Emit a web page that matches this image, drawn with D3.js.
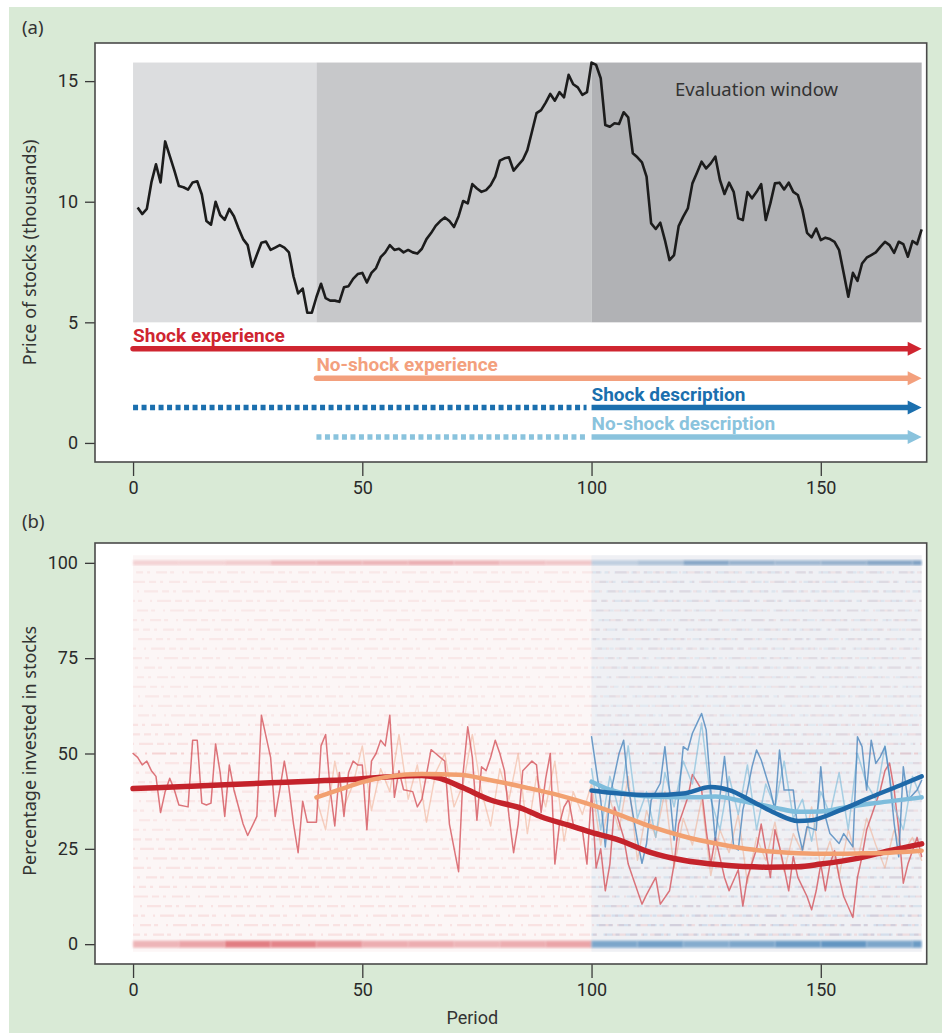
<!DOCTYPE html>
<html>
<head>
<meta charset="utf-8">
<script src="https://cdn.jsdelivr.net/npm/d3@7"></script>
<style>
  body { margin: 0; background: #fff; }
  .cond { font-family: Roboto, "Liberation Sans Narrow", sans-serif; }
  .reg  { font-family: "Noto Sans", "Open Sans", sans-serif; }
</style>
</head>
<body>
<script>
// ---- panel (a): stock price (thousands), periods 1..172
var stockPrice = [
  9.76, 9.49, 9.7, 10.8, 11.55, 10.8, 12.5, 11.9, 11.3, 10.65,
  10.6, 10.5, 10.8, 10.85, 10.3, 9.2, 9.05, 10.0, 9.45, 9.25,
  9.7, 9.4, 8.9, 8.45, 8.2, 7.3, 7.8, 8.3, 8.35, 8.0,
  8.1, 8.2, 8.1, 7.9, 6.9, 6.2, 6.4, 5.4, 5.4, 6.05,
  6.6, 6.0, 5.9, 5.9, 5.85, 6.45, 6.5, 6.8, 7.0, 7.05,
  6.65, 7.05, 7.25, 7.7, 7.9, 8.2, 8.0, 8.05, 7.9, 8.0,
  7.9, 7.85, 8.05, 8.45, 8.7, 9.0, 9.2, 9.35, 9.2, 8.95,
  9.4, 10.03, 9.93, 10.73, 10.55, 10.41, 10.48, 10.69, 11.04, 11.7,
  11.8, 11.84, 11.29, 11.52, 11.73, 12.14, 12.9, 13.67, 13.8, 14.11,
  14.47, 14.19, 14.54, 14.33, 15.26, 14.87, 14.74, 14.43, 14.54, 15.77,
  15.67, 15.12, 13.18, 13.11, 13.25, 13.22, 13.71, 13.5, 12.01, 11.84,
  11.63, 11.04, 9.1, 8.87, 9.13, 8.41, 7.58, 7.79, 8.99, 9.38,
  9.72, 10.76, 11.2, 11.66, 11.38, 11.59, 11.87, 10.9, 10.32, 10.79,
  10.41, 9.31, 9.24, 10.4, 10.14, 10.41, 10.73, 9.24, 9.93, 10.76,
  10.79, 10.51, 10.79, 10.41, 10.28, 9.65, 8.71, 8.52, 8.89, 8.41,
  8.51, 8.45, 8.34, 7.99, 7.03, 6.06, 7.05, 6.72, 7.44, 7.68,
  7.79, 7.9, 8.13, 8.34, 8.2, 7.88, 8.34, 8.24, 7.72, 8.37,
  8.24, 8.85
];
var phaseStart = [0, 40, 100];
var phaseEnd   = [40, 100, 172];
var phaseFill  = ["#dcdddf", "#c7c8ca", "#b1b2b5"];

var conditions   = ["Shock experience", "No-shock experience", "Shock description", "No-shock description"];
var condStart    = [0, 40, 0, 40];     // first period shown
var condSolid    = [0, 40, 100, 100];  // period where the solid part starts
var condEnd      = 172;
var condColor    = ["#cf2530", "#f3a07d", "#1b6fae", "#8ac3dd"];

var yTicksA = [0, 5, 10, 15];
var xTicks  = [0, 50, 100, 150];
var yTicksB = [0, 25, 50, 75, 100];

// ---- panel (b): smoothed percentage invested
var shockExpSmooth = [[0,40.8],[10,41.3],[20,41.8],[30,42.3],[40,42.8],[50,43.4],[57,44],[63,44.2],[67,43.5],
  [72,41],[78,37.8],[85,35.5],[89,33.4],[95,31.2],[100,29.3],[106,27.3],[113,24],[120,22],[128,20.8],
  [138,20.2],[145,20.3],[150,21],[158,22.5],[165,24.5],[172,26.3]];
var noShockExpSmooth = [[40,38.5],[45,40.5],[50,42.5],[56,44],[63,44.6],[71,44.4],[78,43],[86,41],[93,39],
  [100,36.5],[106,34],[113,30.8],[120,28.3],[128,26.2],[135,24.8],[143,24],[150,23.7],[158,23.8],[165,24],[172,24.5]];
var shockDescSmooth = [[100,40.3],[106,39.5],[113,39.1],[120,39.5],[126,41.2],[130,40.4],[135,37.5],[140,34.4],
  [145,32.3],[148,32.5],[154,35],[161,38.6],[168,42],[172,44]];
var noShockDescSmooth = [[100,42.6],[104,40.5],[108,39.3],[115,38.6],[122,38.5],[127,38.7],[133,37.5],[140,35.8],
  [145,34.7],[150,34.8],[155,35.8],[162,37],[172,38.5]];

// ---- panel (b): mean per period
var shockExpMean = [[0,50],[1,49],[2,47],[3,48],[4,45.5],[5,44],[6,34.5],[7,40],[8,43.5],[9,40.5],[10,36.5],
  [12,36],[13,53.5],[14,53.5],[15,37],[16,36.5],[17,37],[18,52.5],[19,45],[20,33.5],[21,47],[22,40.5],[24,31.5],
  [25,28.5],[27,33.5],[28,60],[30,49],[31,33.5],[32,40.5],[33,48],[34,41],[35,31.5],[36,24],[37,37.5],[38,32],
  [40,32],[41,52],[42,55],[43,40.5],[44,31],[45,45],[46,33.5],[47,45],[48,48],[49,47],[50,47],[51,30],[52,48],
  [53,50],[54,53.5],[55,52],[56,60],[57,38.5],[58,45.5],[59,40.5],[61,40],[62,36],[63,38],[65,51],[66,50],
  [67,49],[68,48],[69,31.5],[71,19],[72,45],[73,57],[74,49],[75,32.5],[76,46.5],[77,45.5],[78,49],[79,53.5],
  [80,50],[81,45.5],[82,33.5],[83,24],[84,31.5],[85,45.5],[87,48],[88,47],[89,34.5],[90,43.5],[91,50],[92,21],
  [93,31.5],[94,36],[95,38],[96,31.5],[97,30],[98,30],[99,21],[100,40],[101,20],[102,25],[103,14],[104,21],
  [105,36],[107,28],[108,21],[109,17.5],[111,10.5],[112,13],[114,17.5],[115,10.5],[117,14],[118,21],[119,31.5],
  [121,38.5],[122,44.5],[124,40.5],[125,30],[126,21],[127,28],[129,17.5],[130,14],[132,19.5],[133,10],[134,17.5],
  [136,25],[137,31.5],[139,17.5],[140,30],[141,25.5],[142,20],[143,14],[144,23],[145,17.5],[147,12.5],[148,9],
  [149,14],[150,21],[151,14],[152,21],[153,24.5],[154,17.5],[155,12.5],[157,7],[158,17.5],[159,23],[160,30],
  [161,33.5],[163,40.5],[164,45.5],[165,47.5],[166,40.5],[167,30],[168,16],[169,21],[170,24.5],[171,28],[172,23]];
var noShockExpMean = [[40,38],[42,30],[44,48],[46,36],[48,42],[50,52],[52,35],[54,46],[56,40],[58,55],[60,38],
  [62,47],[64,32],[66,45],[68,50],[70,36],[72,42],[74,55],[76,40],[78,31],[80,46],[82,38],[84,50],[86,29],[88,44],
  [90,36],[92,48],[94,27],[96,40],[98,34],[100,42],[102,26],[104,38],[106,30],[108,44],[110,22],[112,35],[114,28],
  [116,40],[118,20],[120,33],[122,26],[124,38],[126,18],[128,30],[130,24],[132,34],[134,16],[136,28],[138,22],
  [140,32],[142,19],[144,29],[146,24],[148,36],[150,20],[152,27],[154,18],[156,30],[158,22],[160,33],[162,26],
  [164,20],[166,30],[168,24],[170,28],[172,22]];
var shockDescMean = [[100,54.4],[102,37.8],[103,25.5],[104,38.7],[106,50],[107,53.5],[108,41.3],[110,27.3],
  [111,21.2],[112,26.4],[113,37.8],[115,42.2],[116,51.8],[117,40.4],[118,27.3],[119,38.7],[120,51.8],[121,50.9],
  [122,55.3],[123,57.9],[124,60.5],[125,56.2],[126,40.4],[127,27.3],[128,38.7],[129,49.2],[130,37.8],[131,25.5],
  [132,24.7],[133,35.2],[134,40.4],[135,46.5],[136,50.9],[137,48.3],[139,40.4],[140,35.2],[141,50.9],[142,40.4],
  [144,40.4],[145,29.9],[146,24.7],[147,30.8],[149,29.9],[150,46.5],[151,33.4],[152,29],[154,26.4],[155,29],
  [157,25.5],[158,54.4],[159,51.8],[160,40.4],[161,53.5],[162,47.4],[163,49.2],[164,51.8],[165,43.9],[166,31.7],
  [167,22.9],[168,46.5],[169,37.8],[171,40.4],[172,43]];
var noShockDescMean = [[100,46],[102,30],[104,44],[106,35],[108,52],[110,33],[112,40],[114,28],[116,45],
  [118,36],[120,48],[122,42],[124,58],[126,38],[128,30],[130,44],[132,34],[134,47],[136,30],[138,42],[140,36],
  [142,48],[144,33],[146,38],[148,27],[150,40],[152,34],[154,45],[156,30],[158,50],[160,42],[162,38],[164,52],
  [166,36],[168,30],[170,44],[172,38]];

// density of single choices piled at 0% and 100% (per 10-period block)
var topRedDensity    = [0.3, 0.3, 0.35, 0.5, 0.55, 0.55, 0.6, 0.55, 0.45, 0.4];
var topBlueDensity   = [0.3, 0.4, 0.65, 0.55, 0.5, 0.55, 0.65, 0.7];
var bottomRedDensity = [0.4, 0.5, 0.75, 0.7, 0.6, 0.45, 0.45, 0.4, 0.45, 0.5];
var bottomBlueDensity= [0.65, 0.7, 0.6, 0.65, 0.75, 0.8, 0.65, 0.75];
// density of single choices between 0 and 100 (per 10-point level band, low to high)
var levelRedDensity  = [0.15, 0.14, 0.13, 0.11, 0.12, 0.14, 0.1, 0.1, 0.1, 0.1];
var levelBlueDensity = [0.19, 0.15, 0.12, 0.1, 0.09, 0.09, 0.08, 0.09, 0.1, 0.12];

var W = 942, H = 1035;
var svg = d3.select("body").append("svg").attr("width", W).attr("height", H);

var defs = svg.append("defs");
defs.append("filter").attr("id", "soft").append("feGaussianBlur").attr("stdDeviation", 1.2);
defs.append("filter").attr("id", "haze").append("feGaussianBlur").attr("stdDeviation", 0.7);

svg.append("rect").attr("x", 9).attr("y", 7).attr("width", W - 9).attr("height", 1026).attr("fill", "#d9ead6");

var x  = d3.scaleLinear().domain([-8.3, 173.1]).range([95, 926.7]);
var yA = d3.scaleLinear().domain([-0.79, 16.58]).range([462, 43]);
var yB = d3.scaleLinear().domain([-5.2, 105.2]).range([964, 543]);

function frame(y) {
  svg.append("rect")
    .attr("x", x.range()[0]).attr("y", y.range()[1])
    .attr("width", x.range()[1] - x.range()[0]).attr("height", y.range()[0] - y.range()[1])
    .attr("fill", "#fff");
}
function axes(y, ticks) {
  var gy = svg.append("g")
      .attr("transform", "translate(" + x.range()[0] + ",0)")
      .call(d3.axisLeft(y).tickValues(ticks).tickSize(10).tickPadding(7));
  var gx = svg.append("g")
      .attr("transform", "translate(0," + y.range()[0] + ")")
      .call(d3.axisBottom(x).tickValues(xTicks).tickSize(14).tickPadding(5));
  [gy, gx].forEach(function(g) {
    g.attr("font-family", null).attr("class", "cond");
    g.select(".domain").remove();
    g.selectAll("line").attr("stroke", "#3a3a3a").attr("stroke-width", 1.3);
    g.selectAll("text").attr("font-size", 18).attr("fill", "#2a2a2a");
  });
  svg.append("rect")
    .attr("x", x.range()[0]).attr("y", y.range()[1])
    .attr("width", x.range()[1] - x.range()[0]).attr("height", y.range()[0] - y.range()[1])
    .attr("fill", "none").attr("stroke", "#4a4a4a").attr("stroke-width", 1.6);
}

// ================= panel (a)
frame(yA);
var shadeTop = d3.max(stockPrice);
phaseStart.forEach(function(s, i) {
  svg.append("rect")
    .attr("x", x(s)).attr("y", yA(shadeTop))
    .attr("width", x(phaseEnd[i]) - x(s)).attr("height", yA(5) - yA(shadeTop))
    .attr("fill", phaseFill[i]);
});
svg.append("text").attr("class", "reg")
  .attr("x", x((phaseStart[2] + phaseEnd[2]) / 2)).attr("y", yA(shadeTop) + 33)
  .attr("text-anchor", "middle").attr("font-size", 18.5).attr("fill", "#333")
  .text("Evaluation window");

svg.append("path")
  .datum(stockPrice)
  .attr("fill", "none").attr("stroke", "#1c1c1c").attr("stroke-width", 2.6)
  .attr("stroke-linejoin", "round")
  .attr("d", d3.line().x(function(d, i) { return x(i + 1); }).y(function(d) { return yA(d); }));

var arrowY = d3.scalePoint().domain(conditions).range([yA(3.9), yA(0.25)]);
conditions.forEach(function(c, i) {
  var yy = arrowY(c), tip = x(condEnd), head = 14;
  if (condStart[i] < condSolid[i]) {
    svg.append("line")
      .attr("x1", x(condStart[i])).attr("x2", x(condSolid[i]) - 5)
      .attr("y1", yy).attr("y2", yy)
      .attr("stroke", condColor[i]).attr("stroke-width", 5.5)
      .attr("stroke-dasharray", "5,3.5");
  }
  svg.append("line")
    .attr("x1", x(condSolid[i])).attr("x2", tip - head + 1)
    .attr("y1", yy).attr("y2", yy)
    .attr("stroke", condColor[i]).attr("stroke-width", 5.5)
    .attr("stroke-linecap", condStart[i] < condSolid[i] ? "butt" : "round");
  svg.append("path")
    .attr("d", "M" + (tip - head) + "," + (yy - 7) + "L" + tip + "," + yy + "L" + (tip - head) + "," + (yy + 7) + "Z")
    .attr("fill", condColor[i]);
  svg.append("text").attr("class", "cond")
    .attr("x", x(condSolid[i])).attr("y", yy - 7)
    .attr("font-size", 19).attr("font-weight", "bold").attr("fill", condColor[i])
    .text(c);
});
axes(yA, yTicksA);

// ================= panel (b)
frame(yB);
var tex = svg.append("g");
tex.append("rect").attr("x", x(0)).attr("y", yB(102)).attr("width", x(172) - x(0)).attr("height", yB(-2) - yB(102))
  .attr("fill", "#f6dede").attr("opacity", 0.28);
tex.append("rect").attr("x", x(100)).attr("y", yB(102)).attr("width", x(172) - x(100)).attr("height", yB(-2) - yB(102))
  .attr("fill", "#dce9f3").attr("opacity", 0.4);
// faint individual trajectories, shown as light streaks
var streaks = tex.append("g").attr("filter", "url(#haze)");
d3.range(2.5, 100, 2.5).forEach(function(v, i) {
  var b = Math.min(Math.floor(v / 10), 9);
  streaks.append("line").attr("x1", x(0)).attr("x2", x(172)).attr("y1", yB(v)).attr("y2", yB(v))
    .attr("stroke", "#e07070").attr("stroke-width", 2.2)
    .attr("opacity", levelRedDensity[b] * (v === 50 ? 1.8 : 1))
    .attr("stroke-dasharray", "7,4,3,6,11,3,4,8,2,5,14,4").attr("stroke-dashoffset", i * 13);
  streaks.append("line").attr("x1", x(100)).attr("x2", x(172)).attr("y1", yB(v)).attr("y2", yB(v))
    .attr("stroke", "#5f97c7").attr("stroke-width", 2.2).attr("opacity", levelBlueDensity[b])
    .attr("stroke-dasharray", "5,7,9,3,4,6,12,5").attr("stroke-dashoffset", i * 7);
});
function band(level, dens, start, col, h) {
  dens.forEach(function(a, i) {
    var s = start + i * 10, e = Math.min(s + 10, 172);
    tex.append("rect").attr("x", x(s)).attr("width", x(e) - x(s))
      .attr("y", yB(level) - h / 2).attr("height", h)
      .attr("fill", col).attr("opacity", a).attr("filter", "url(#soft)");
  });
}
band(100, topRedDensity, 0, "#df7f85", 5);
band(100, topBlueDensity, 100, "#4f7fad", 5);
band(0, bottomRedDensity, 0, "#d9545c", 7);
band(0, bottomBlueDensity, 100, "#3f7fb5", 7);

var thin = d3.line().x(function(d) { return x(d[0]); }).y(function(d) { return yB(d[1]); });
var smooth = d3.line().curve(d3.curveMonotoneX).x(function(d) { return x(d[0]); }).y(function(d) { return yB(d[1]); });
function draw(data, gen, col, w, op) {
  svg.append("path").datum(data).attr("d", gen)
    .attr("fill", "none").attr("stroke", col).attr("stroke-width", w).attr("opacity", op)
    .attr("stroke-linejoin", "round").attr("stroke-linecap", "round");
}
draw(noShockExpMean, thin, "#f0a585", 1.4, 0.5);
draw(shockExpMean, thin, "#d4545b", 1.5, 0.8);
draw(noShockDescMean, thin, "#86bfdc", 1.5, 0.7);
draw(shockDescMean, thin, "#4b86bd", 1.5, 0.8);
draw(shockExpSmooth, smooth, "#c4232b", 5.5, 1);
draw(noShockExpSmooth, smooth, "#f2a070", 4.5, 1);
draw(noShockDescSmooth, smooth, "#7ebddc", 4.5, 1);
draw(shockDescSmooth, smooth, "#1f69a8", 4.5, 1);
axes(yB, yTicksB);

// ---- titles
svg.append("text").attr("class", "reg").attr("x", 22).attr("y", 34).attr("font-size", 18.5).attr("fill", "#333").text("(a)");
svg.append("text").attr("class", "reg").attr("x", 22).attr("y", 528).attr("font-size", 18.5).attr("fill", "#333").text("(b)");
svg.append("text").attr("class", "reg")
  .attr("transform", "translate(36," + yA(7.9) + ") rotate(-90)")
  .attr("text-anchor", "middle").attr("font-size", 18).attr("fill", "#333")
  .text("Price of stocks (thousands)");
svg.append("text").attr("class", "reg")
  .attr("transform", "translate(36," + yB(50.7) + ") rotate(-90)")
  .attr("text-anchor", "middle").attr("font-size", 18).attr("fill", "#333")
  .text("Percentage invested in stocks");
svg.append("text").attr("class", "cond")
  .attr("x", x(74)).attr("y", 1024)
  .attr("text-anchor", "middle").attr("font-size", 18).attr("fill", "#333")
  .text("Period");
</script>
</body>
</html>
